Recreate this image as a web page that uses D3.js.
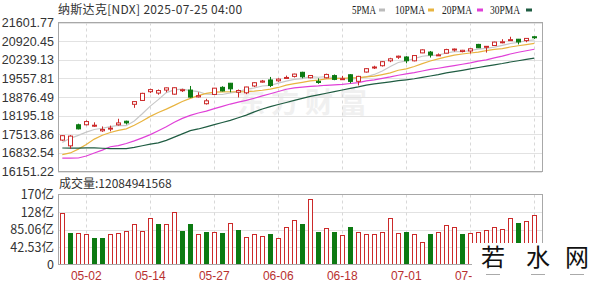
<!DOCTYPE html>
<html><head><meta charset="utf-8">
<script src="https://cdn.jsdelivr.net/npm/d3@7"></script>
<style>body{margin:0;background:#fff;} svg{display:block;}</style>
</head><body>
<svg id="c" width="600" height="287"></svg>
<script>
// ---------- data ----------
const dates = ["04-29","04-30","05-01","05-02","05-05","05-06","05-07","05-08","05-09","05-12",
"05-13","05-14","05-15","05-16","05-19","05-20","05-21","05-22","05-23","05-27",
"05-28","05-29","05-30","06-02","06-03","06-04","06-05","06-06","06-09","06-10",
"06-11","06-12","06-13","06-16","06-17","06-18","06-20","06-23","06-24","06-25",
"06-26","06-27","06-30","07-01","07-02","07-03","07-07","07-08","07-09","07-10",
"07-11","07-14","07-15","07-16","07-17","07-18","07-21","07-22","07-23","07-24"];
const opens = [17300,17090,17860,17860,17810,17640,17720,17860,17990,18610,
18750,19070,19020,19130,18980,19130,19130,18880,18630,18970,
19230,19380,19050,19030,19280,19420,19500,19470,19580,19630,
19780,19580,19450,19580,19660,19520,19690,19450,19790,19950,
20020,20200,20330,20340,20200,20490,20520,20410,20480,20620,
20540,20560,20800,20700,20760,20880,20950,20990,20940,21080];
const highs = [17475,17480,17900,18020,17950,17800,17830,18080,18010,18730,
19030,19180,19150,19220,19230,19180,19280,19050,18810,19210,
19270,19390,19150,19250,19420,19500,19610,19560,19660,19730,
19800,19680,19560,19730,19700,19650,19710,19650,19930,20020,
20190,20310,20390,20370,20400,20620,20560,20470,20640,20650,
20600,20660,20820,20740,20900,20990,21080,21000,21030,21100];
const lows = [17270,16980,17690,17840,17780,17600,17620,17830,17870,18480,
18730,19020,18960,19050,18960,19060,18850,18860,18600,18950,
19080,19050,18860,18980,19240,19400,19240,19430,19550,19590,
19560,19560,19360,19560,19490,19500,19380,19300,19770,19900,
19990,20150,20270,20110,20180,20480,20320,20380,20470,20540,
20510,20470,20670,20500,20750,20840,20940,20800,20880,21000];
const closes = [17461.32,17446.34,17710.74,17977.73,17844.24,17689.66,17738.16,17928.14,17928.92,18708.34,
19010.08,19146.81,19112.32,19211.10,19215.46,19142.71,18872.64,18925.74,18737.21,19199.16,
19100.94,19175.87,19113.77,19242.61,19398.96,19460.49,19298.45,19529.95,19591.24,19714.99,
19615.88,19662.49,19406.83,19701.21,19521.09,19546.27,19447.41,19630.97,19912.53,19973.55,
20167.91,20273.46,20369.73,20202.89,20393.13,20601.10,20412.52,20418.46,20611.34,20630.67,
20585.53,20640.33,20677.80,20730.49,20885.65,20895.66,20974.17,20892.69,21020.02,21057.96];
// volumes in 亿
const volumes = [125,76,76,74,64,64,74,76,82,99,
82,112,99,99,127,82,99,74,79,79,
76,102,84,68,74,70,73,64,90,107,
99,160,79,89,79,71,91,79,74,74,
78,113,76,78,74,54,74,78,95,92,
73,76,79,85,91,87,114,100,105,120.8];
// closes before the first visible day, used for the moving averages
const priorCloses = [17504.12,17750.79,17691.63,17784.05,18188.59,18271.86,17899.01,17804.03,17322.99,17299.29,
17449.89,17601.05,16550.61,15587.79,15603.26,15267.91,17124.97,16387.31,16724.46,16831.48,
16823.17,16307.16,16286.45,15870.90,16300.42,16708.05,17166.04,17382.94,17366.13];

const priceTicks = [21601.77,20920.45,20239.13,19557.81,18876.49,18195.18,17513.86,16832.54,16151.22];
const volTicks = [0,42.53,85.06,127.59,170.12];
const volTickLabels = ["0","42.53亿","85.06亿","128亿","170亿"];
const xLabelDates = ["05-02","05-14","05-27","06-06","06-18","07-01","07-14"];
const gridDates = ["05-02","05-14","05-27","06-06","06-18","07-01","07-14","07-24"];
const maPeriods = [5,10,20,30];
const maNames = ["5PMA","10PMA","20PMA","30PMA"];
const maColors = ["#c8c8c8","#e8b440","#e040d8","#1f5c42"];
const titleText = "纳斯达克[NDX] 2025-07-25 04:00";
const volTitle = "成交量:12084941568";

// ---------- layout ----------
const svg = d3.select("#c");
const L = 58, R = 542;
const pTop = 22.5, pBot = 171.5;
const vTop = 194.5, vBot = 264.5;
const RED = "#cc2a2a", GREEN = "#0c7a12";

const x = d3.scaleBand().domain(dates).range([58.3, 538.3]);
const xc = d => x(d) + x.bandwidth()/2;
const y = d3.scaleLinear().domain([16151.22, 21601.77]).range([pBot, pTop]);
const yv = d3.scaleLinear().domain([0, 170.12]).range([vBot, vTop]);

const font = "'Liberation Sans', Arial, sans-serif";
const cjk = "'Noto Sans CJK SC', sans-serif";

// watermark in plot
svg.append("text").attr("x", 305).attr("y", 113).attr("text-anchor","middle")
  .attr("font-family", cjk).attr("font-weight","bold").attr("font-size", 28)
  .attr("fill", "#f0f0f0").attr("letter-spacing", 6).text("东方财富");

// grids - price
const gP = svg.append("g");
gP.selectAll("line.h").data(priceTicks).join("line")
  .attr("x1", L).attr("x2", R).attr("y1", d => Math.round(y(d))+0.5).attr("y2", d => Math.round(y(d))+0.5)
  .attr("stroke", "#e2e2e2");
gP.selectAll("line.v").data(gridDates).join("line")
  .attr("x1", d => Math.round(xc(d))+0.5).attr("x2", d => Math.round(xc(d))+0.5)
  .attr("y1", pTop).attr("y2", pBot).attr("stroke", "#d8d8d8").attr("stroke-dasharray","3,3");
// grids - volume
const gV = svg.append("g");
gV.selectAll("line.h").data(volTicks.slice(1,4)).join("line")
  .attr("x1", L).attr("x2", R).attr("y1", d => Math.round(yv(d))+0.5).attr("y2", d => Math.round(yv(d))+0.5)
  .attr("stroke", "#e2e2e2");
gV.selectAll("line.v").data(gridDates).join("line")
  .attr("x1", d => Math.round(xc(d))+0.5).attr("x2", d => Math.round(xc(d))+0.5)
  .attr("y1", vTop).attr("y2", vBot).attr("stroke", "#d8d8d8").attr("stroke-dasharray","3,3");

// moving averages
const allCloses = priorCloses.concat(closes);
const off = priorCloses.length;
maPeriods.forEach((n, k) => {
  const vals = dates.map((d, i) => {
    const end = off + i;
    const s = d3.sum(allCloses.slice(end - n + 1, end + 1));
    return {d, v: s / n};
  });
  svg.append("path").datum(vals)
    .attr("fill","none").attr("stroke", maColors[k]).attr("stroke-width", 1.2)
    .attr("d", d3.line().x(p => xc(p.d)).y(p => y(p.v)));
});

// candles
const candles = dates.map((d,i) => ({d, o:opens[i], h:highs[i], l:lows[i], c:closes[i]}));
const gC = svg.append("g");
gC.selectAll("line").data(candles).join("line")
  .attr("x1", p => Math.round(xc(p.d))+0.5).attr("x2", p => Math.round(xc(p.d))+0.5)
  .attr("y1", p => y(p.h)).attr("y2", p => y(p.l))
  .attr("stroke", p => p.c >= p.o ? RED : GREEN);
gC.selectAll("rect").data(candles).join("rect")
  .attr("x", p => Math.round(xc(p.d)) - 2 + 0.5)
  .attr("width", 4)
  .attr("y", p => y(Math.max(p.o,p.c)))
  .attr("height", p => Math.max(1, Math.abs(y(p.o)-y(p.c))))
  .attr("fill", p => p.c >= p.o ? "#fff" : GREEN)
  .attr("stroke", p => p.c >= p.o ? RED : GREEN);

// volume bars (colour by close vs previous close)
const vb = dates.map((d,i) => ({d, v: volumes[i], up: i === 0 ? true : closes[i] >= closes[i-1]}));
svg.append("g").selectAll("rect").data(vb).join("rect")
  .attr("x", p => Math.round(xc(p.d)) - 2 + 0.5)
  .attr("width", 4)
  .attr("y", p => Math.round(yv(p.v)) + 0.5)
  .attr("height", p => vBot - Math.round(yv(p.v)) - 0.5)
  .attr("fill", p => p.up ? "#fff" : GREEN)
  .attr("stroke", p => p.up ? RED : GREEN);

// frames
svg.append("rect").attr("x", L+0.5).attr("y", pTop).attr("width", R-L).attr("height", pBot-pTop)
  .attr("fill","none").attr("stroke","#a8a8a8");
svg.append("rect").attr("x", L+0.5).attr("y", vTop).attr("width", R-L).attr("height", vBot-vTop)
  .attr("fill","none").attr("stroke","#a8a8a8");

// y labels price
svg.append("g").selectAll("text").data(priceTicks).join("text")
  .attr("x", 54).attr("y", d => y(d) + 4.5).attr("text-anchor","end")
  .attr("font-family", font).attr("font-size", 12.5).attr("fill", "#333")
  .text(d => d.toFixed(2));
// y labels volume
svg.append("g").selectAll("text").data(volTicks).join("text")
  .attr("x", 54).attr("y", (d) => yv(d) + 4.5).attr("text-anchor","end")
  .attr("font-family", cjk).attr("font-size", 12.5).attr("fill", "#333")
  .text((d,i) => volTickLabels[i]);

// x labels
svg.append("g").selectAll("text").data(xLabelDates).join("text")
  .attr("x", d => xc(d)).attr("y", 280).attr("text-anchor","middle")
  .attr("font-family", font).attr("font-size", 12).attr("fill", "#b83030")
  .text(d => d);

// title
svg.append("text").attr("x", 58).attr("y", 14).attr("font-family", cjk).attr("font-size", 12)
  .attr("fill","#333").attr("letter-spacing", 0.3).text(titleText);
svg.append("text").attr("x", 59).attr("y", 188).attr("font-family", cjk).attr("font-size", 12)
  .attr("fill","#333").text(volTitle);

// legend
const legX = [352, 395, 442, 490];
const legW = [24, 30, 30, 30];
const dashX = [379, 428, 477, 526];
const lg = svg.append("g");
maNames.forEach((n,k) => {
  lg.append("text").attr("x", legX[k]).attr("y", 14)
    .attr("font-family", "'Liberation Serif', serif").attr("font-size", 12.5).attr("fill", "#222")
    .attr("textLength", legW[k]).attr("lengthAdjust", "spacingAndGlyphs").text(n);
  lg.append("rect").attr("x", dashX[k]).attr("y", 8.5).attr("width", 6).attr("height", 3)
    .attr("fill", k === 0 ? "#bbb" : maColors[k]);
});

// site watermark bottom right
svg.append("rect").attr("x", 472).attr("y", 243).attr("width", 128).attr("height", 44).attr("fill", "#fff");
const wm = ["若","水","网"], wmX = [493, 538, 577];
wm.forEach((c,i) => {
  svg.append("text").attr("x", wmX[i]).attr("y", 266).attr("text-anchor","middle")
    .attr("font-family", cjk).attr("font-size", 24).attr("fill", "#111").text(c);
  svg.append("rect").attr("x", wmX[i]-7).attr("y", 274).attr("width", 14).attr("height", 1).attr("fill", "#aaa");
});
</script>
</body></html>
